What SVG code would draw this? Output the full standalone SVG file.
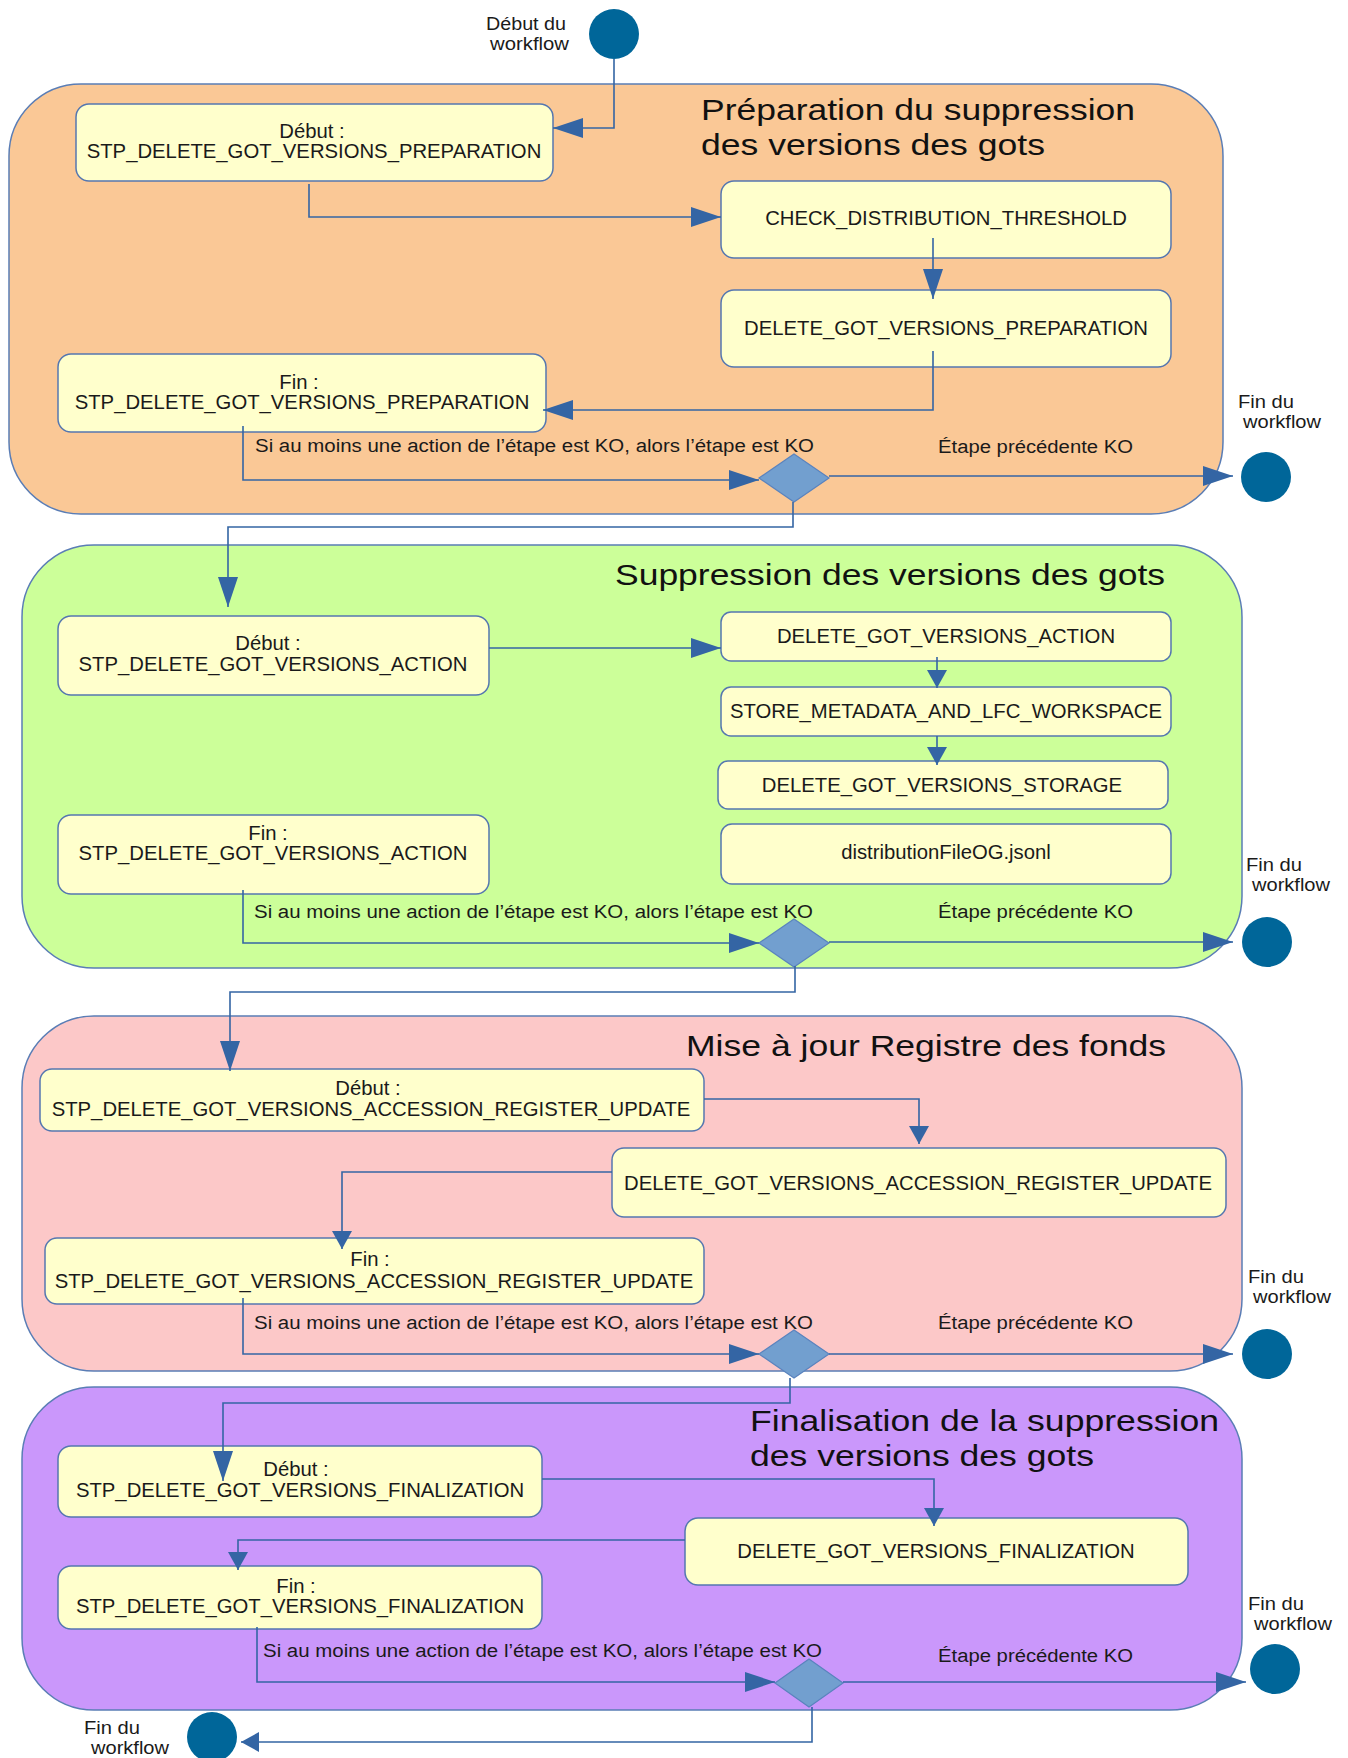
<svg xmlns="http://www.w3.org/2000/svg" width="1348" height="1758" viewBox="0 0 1348 1758">
<style>
.panel{stroke:#5A7DB5;stroke-width:1.5}
.box{fill:#FFFFCC;stroke:#5577B0;stroke-width:1.5}
.t{font-family:"Liberation Sans",Arial,sans-serif;font-size:20.3px;fill:#1a1a1a}
.c{text-anchor:middle}
.lbl{font-family:"Liberation Sans",Arial,sans-serif;font-size:18px;fill:#1a1a1a}
.title{font-family:"Liberation Sans",Arial,sans-serif;font-size:30px;fill:#111}
.conn{fill:none;stroke:#3465A4;stroke-width:1.6}
.dia{fill:#729FCF;stroke:#5A83BE;stroke-width:1.2}
.term{fill:#006699}
</style>
<defs>
<marker id="ah" markerUnits="userSpaceOnUse" markerWidth="30" markerHeight="20" refX="30" refY="10" orient="auto"><path d="M0,0 L30,10 L0,20 z" fill="#3465A4"/></marker>
<marker id="as" markerUnits="userSpaceOnUse" markerWidth="18" markerHeight="20" refX="18" refY="10" orient="auto"><path d="M0,0 L18,10 L0,20 z" fill="#3465A4"/></marker>
</defs>

<!-- Panels -->
<g id="panel-preparation">
<rect class="panel" x="9" y="84" width="1214" height="430" rx="72" ry="72" fill="#FAC896"/>
<text class="title" x="701" y="120" textLength="434" lengthAdjust="spacingAndGlyphs">Préparation du suppression</text>
<text class="title" x="701" y="155" textLength="344" lengthAdjust="spacingAndGlyphs">des versions des gots</text>
</g>
<g id="panel-suppression">
<rect class="panel" x="22" y="545" width="1220" height="423" rx="72" ry="72" fill="#CCFF99"/>
<text class="title" x="615" y="585" textLength="550" lengthAdjust="spacingAndGlyphs">Suppression des versions des gots</text>
</g>
<g id="panel-registre">
<rect class="panel" x="22" y="1016" width="1220" height="355" rx="72" ry="72" fill="#FCC8C8"/>
<text class="title" x="686" y="1056" textLength="480" lengthAdjust="spacingAndGlyphs">Mise à jour Registre des fonds</text>
</g>
<g id="panel-finalisation">
<rect class="panel" x="22" y="1387" width="1220" height="323" rx="72" ry="72" fill="#CA97FB"/>
<text class="title" x="750" y="1431" textLength="469" lengthAdjust="spacingAndGlyphs">Finalisation de la suppression</text>
<text class="title" x="750" y="1466" textLength="344" lengthAdjust="spacingAndGlyphs">des versions des gots</text>
</g>

<!-- Start -->
<g id="start">
<circle class="term" cx="614" cy="34" r="25"/>
<text class="lbl" x="486" y="30" textLength="80" lengthAdjust="spacingAndGlyphs">Début du</text>
<text class="lbl" x="490" y="50" textLength="79" lengthAdjust="spacingAndGlyphs">workflow</text>
</g>

<!-- Panel 1 nodes -->
<g id="debut-preparation">
<rect class="box" x="76" y="104" width="477" height="77" rx="13"/>
<text class="t c" x="312" y="138">Début :</text>
<text class="t c" x="314" y="158">STP_DELETE_GOT_VERSIONS_PREPARATION</text>
</g>
<g id="check-distribution-threshold">
<rect class="box" x="721" y="181" width="450" height="77" rx="13"/>
<text class="t c" x="946" y="225">CHECK_DISTRIBUTION_THRESHOLD</text>
</g>
<g id="delete-got-versions-preparation">
<rect class="box" x="721" y="290" width="450" height="77" rx="13"/>
<text class="t c" x="946" y="335">DELETE_GOT_VERSIONS_PREPARATION</text>
</g>
<g id="fin-preparation">
<rect class="box" x="58" y="354" width="488" height="78" rx="13"/>
<text class="t c" x="299" y="389">Fin :</text>
<text class="t c" x="302" y="409">STP_DELETE_GOT_VERSIONS_PREPARATION</text>
</g>
<g id="decision-preparation">
<polygon class="dia" points="759,478 794,454 829,478 794,502"/>
<text class="lbl" x="255" y="452" textLength="559" lengthAdjust="spacingAndGlyphs">Si au moins une action de l’étape est KO, alors l’étape est KO</text>
<text class="lbl" x="938" y="453" textLength="195" lengthAdjust="spacingAndGlyphs">Étape précédente KO</text>
</g>
<g id="end-preparation">
<circle class="term" cx="1266" cy="477" r="25"/>
<text class="lbl" x="1238" y="408" textLength="56" lengthAdjust="spacingAndGlyphs">Fin du</text>
<text class="lbl" x="1243" y="428" textLength="78" lengthAdjust="spacingAndGlyphs">workflow</text>
</g>

<!-- Panel 2 nodes -->
<g id="debut-action">
<rect class="box" x="58" y="616" width="431" height="79" rx="13"/>
<text class="t c" x="268" y="650">Début :</text>
<text class="t c" x="273" y="671">STP_DELETE_GOT_VERSIONS_ACTION</text>
</g>
<g id="delete-got-versions-action">
<rect class="box" x="721" y="612" width="450" height="49" rx="10"/>
<text class="t c" x="946" y="643">DELETE_GOT_VERSIONS_ACTION</text>
</g>
<g id="store-metadata">
<rect class="box" x="721" y="687" width="450" height="49" rx="10"/>
<text class="t c" x="946" y="718">STORE_METADATA_AND_LFC_WORKSPACE</text>
</g>
<g id="delete-got-versions-storage">
<rect class="box" x="718" y="761" width="450" height="48" rx="10"/>
<text class="t c" x="942" y="792">DELETE_GOT_VERSIONS_STORAGE</text>
</g>
<g id="distribution-file">
<rect class="box" x="721" y="824" width="450" height="60" rx="11"/>
<text class="t c" x="946" y="859">distributionFileOG.jsonl</text>
</g>
<g id="fin-action">
<rect class="box" x="58" y="815" width="431" height="79" rx="13"/>
<text class="t c" x="268" y="840">Fin :</text>
<text class="t c" x="273" y="860">STP_DELETE_GOT_VERSIONS_ACTION</text>
</g>
<g id="decision-action">
<polygon class="dia" points="759,943 794,919 829,943 794,967"/>
<text class="lbl" x="254" y="918" textLength="559" lengthAdjust="spacingAndGlyphs">Si au moins une action de l’étape est KO, alors l’étape est KO</text>
<text class="lbl" x="938" y="918" textLength="195" lengthAdjust="spacingAndGlyphs">Étape précédente KO</text>
</g>
<g id="end-action">
<circle class="term" cx="1267" cy="942" r="25"/>
<text class="lbl" x="1246" y="871" textLength="56" lengthAdjust="spacingAndGlyphs">Fin du</text>
<text class="lbl" x="1252" y="891" textLength="78" lengthAdjust="spacingAndGlyphs">workflow</text>
</g>

<!-- Panel 3 nodes -->
<g id="debut-registre">
<rect class="box" x="40" y="1069" width="664" height="62" rx="12"/>
<text class="t c" x="368" y="1095">Début :</text>
<text class="t c" x="371" y="1116">STP_DELETE_GOT_VERSIONS_ACCESSION_REGISTER_UPDATE</text>
</g>
<g id="delete-got-versions-accession">
<rect class="box" x="612" y="1148" width="614" height="69" rx="12"/>
<text class="t c" x="918" y="1190">DELETE_GOT_VERSIONS_ACCESSION_REGISTER_UPDATE</text>
</g>
<g id="fin-registre">
<rect class="box" x="45" y="1238" width="659" height="66" rx="12"/>
<text class="t c" x="370" y="1266">Fin :</text>
<text class="t c" x="374" y="1288">STP_DELETE_GOT_VERSIONS_ACCESSION_REGISTER_UPDATE</text>
</g>
<g id="decision-registre">
<polygon class="dia" points="759,1354 794,1330 829,1354 794,1378"/>
<text class="lbl" x="254" y="1329" textLength="559" lengthAdjust="spacingAndGlyphs">Si au moins une action de l’étape est KO, alors l’étape est KO</text>
<text class="lbl" x="938" y="1329" textLength="195" lengthAdjust="spacingAndGlyphs">Étape précédente KO</text>
</g>
<g id="end-registre">
<circle class="term" cx="1267" cy="1354" r="25"/>
<text class="lbl" x="1248" y="1283" textLength="56" lengthAdjust="spacingAndGlyphs">Fin du</text>
<text class="lbl" x="1253" y="1303" textLength="78" lengthAdjust="spacingAndGlyphs">workflow</text>
</g>

<!-- Panel 4 nodes -->
<g id="debut-finalisation">
<rect class="box" x="58" y="1446" width="484" height="71" rx="13"/>
<text class="t c" x="296" y="1476">Début :</text>
<text class="t c" x="300" y="1497">STP_DELETE_GOT_VERSIONS_FINALIZATION</text>
</g>
<g id="delete-got-versions-finalization">
<rect class="box" x="685" y="1518" width="503" height="67" rx="13"/>
<text class="t c" x="936" y="1558">DELETE_GOT_VERSIONS_FINALIZATION</text>
</g>
<g id="fin-finalisation">
<rect class="box" x="58" y="1566" width="484" height="63" rx="13"/>
<text class="t c" x="296" y="1593">Fin :</text>
<text class="t c" x="300" y="1613">STP_DELETE_GOT_VERSIONS_FINALIZATION</text>
</g>
<g id="decision-finalisation">
<polygon class="dia" points="775,1683 809,1659 843,1683 809,1707"/>
<text class="lbl" x="263" y="1657" textLength="559" lengthAdjust="spacingAndGlyphs">Si au moins une action de l’étape est KO, alors l’étape est KO</text>
<text class="lbl" x="938" y="1662" textLength="195" lengthAdjust="spacingAndGlyphs">Étape précédente KO</text>
</g>
<g id="end-finalisation-ko">
<circle class="term" cx="1275" cy="1669" r="25"/>
<text class="lbl" x="1248" y="1610" textLength="56" lengthAdjust="spacingAndGlyphs">Fin du</text>
<text class="lbl" x="1254" y="1630" textLength="78" lengthAdjust="spacingAndGlyphs">workflow</text>
</g>
<g id="end-workflow">
<circle class="term" cx="212" cy="1737" r="25"/>
<text class="lbl" x="84" y="1734" textLength="56" lengthAdjust="spacingAndGlyphs">Fin du</text>
<text class="lbl" x="91" y="1754" textLength="78" lengthAdjust="spacingAndGlyphs">workflow</text>
</g>

<!-- Connectors -->
<g id="connectors">
<path class="conn" d="M614,59 V128 H553" marker-end="url(#ah)"/>
<path class="conn" d="M309,184 V217 H721" marker-end="url(#ah)"/>
<path class="conn" d="M933,238 V299" marker-end="url(#ah)"/>
<path class="conn" d="M933,351 V410 H543" marker-end="url(#ah)"/>
<path class="conn" d="M243,426 V480 H759" marker-end="url(#ah)"/>
<path class="conn" d="M829,476 H1233" marker-end="url(#ah)"/>
<path class="conn" d="M793,502 V527 H228 V607" marker-end="url(#ah)"/>

<path class="conn" d="M489,648 H721" marker-end="url(#ah)"/>
<path class="conn" d="M937,657 V688" marker-end="url(#as)"/>
<path class="conn" d="M937,736 V765" marker-end="url(#as)"/>
<path class="conn" d="M243,890 V943 H759" marker-end="url(#ah)"/>
<path class="conn" d="M829,942 H1233" marker-end="url(#ah)"/>
<path class="conn" d="M795,966 V992 H230 V1071" marker-end="url(#ah)"/>

<path class="conn" d="M704,1099 H919 V1144" marker-end="url(#as)"/>
<path class="conn" d="M612,1172 H342 V1249" marker-end="url(#as)"/>
<path class="conn" d="M243,1298 V1354 H759" marker-end="url(#ah)"/>
<path class="conn" d="M829,1354 H1233" marker-end="url(#ah)"/>
<path class="conn" d="M790,1378 V1403 H223 V1481" marker-end="url(#ah)"/>

<path class="conn" d="M542,1479 H934 V1526" marker-end="url(#as)"/>
<path class="conn" d="M685,1540 H238 V1570" marker-end="url(#as)"/>
<path class="conn" d="M257,1627 V1682 H775" marker-end="url(#ah)"/>
<path class="conn" d="M843,1682 H1246" marker-end="url(#ah)"/>
<path class="conn" d="M812,1707 V1742 H241" marker-end="url(#as)"/>
</g>
</svg>
